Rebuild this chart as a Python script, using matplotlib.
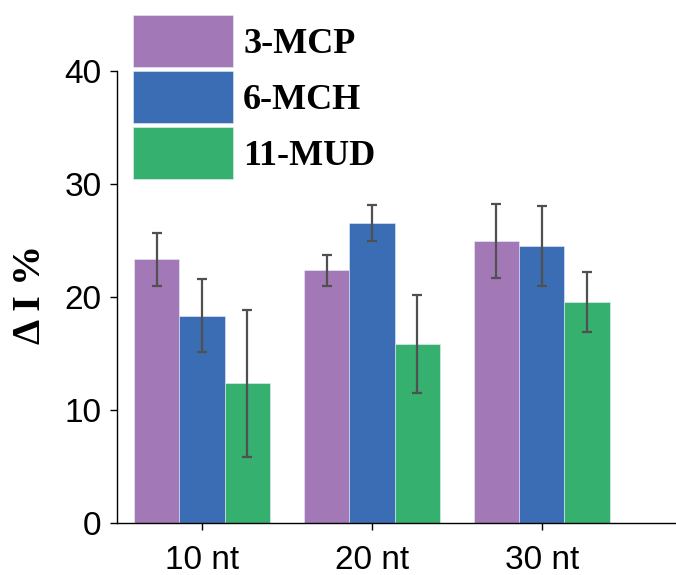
import matplotlib.pyplot as plt
import numpy as np

groups = ['10 nt', '20 nt', '30 nt']
series = ['3-MCP', '6-MCH', '11-MUD']
means = [
    [23.35, 22.35, 24.95],   # 3-MCP
    [18.35, 26.55, 24.5],    # 6-MCH
    [12.35, 15.85, 19.55],   # 11-MUD
]
errs = [
    [2.35, 1.35, 3.3],
    [3.2, 1.6, 3.55],
    [6.5, 4.35, 2.62],
]
colors = ['#a279b6', '#3b6db4', '#35b06f']

fig = plt.figure(figsize=(6.76, 5.75), dpi=100)
ax = fig.add_axes([117/676, 52/575, 1 - 117/676, (523 - 71)/575])

x = np.arange(len(groups))
w = 0.8 / 3
for i, name in enumerate(series):
    ax.bar(x + (i - 1) * w, means[i], width=w, color=colors[i],
           edgecolor='#e8eef8', linewidth=0.4, label=name, zorder=2)
    ax.errorbar(x + (i - 1) * w, means[i], yerr=errs[i], fmt='none',
                ecolor='#505050', elinewidth=1.6, capsize=3.8,
                capthick=1.6, zorder=3)

ax.set_xlim(-0.5, 2.79)
ax.set_ylim(0, 40)
ax.set_yticks([0, 10, 20, 30, 40])
ax.set_xticks(x)
ax.set_xticklabels(groups)
for s in ['top', 'right']:
    ax.spines[s].set_visible(False)
for s in ['left', 'bottom']:
    ax.spines[s].set_linewidth(1.0)
ax.tick_params(axis='both', labelsize=24, width=1.0, length=5,
               direction='out')
ax.tick_params(axis='y', pad=6)
ax.tick_params(axis='x', pad=11)
for t in ax.get_xticklabels() + ax.get_yticklabels():
    t.set_family('Liberation Sans')

ax.set_ylabel('Δ I %', family='Liberation Serif', fontweight='bold',
              fontsize=29)
ax.yaxis.set_label_coords(-0.122, 0.505)

# big square handles, almost touching each other
leg = fig.legend(loc='upper left', bbox_to_anchor=(133/676, 1 - 15/575),
                 frameon=False, borderpad=0, borderaxespad=0,
                 handlelength=2.77, handleheight=1.84, labelspacing=0.11,
                 handletextpad=0.28,
                 prop={'family': 'Liberation Serif', 'weight': 'bold',
                       'size': 26})

fig.savefig('out.png', dpi=100)
